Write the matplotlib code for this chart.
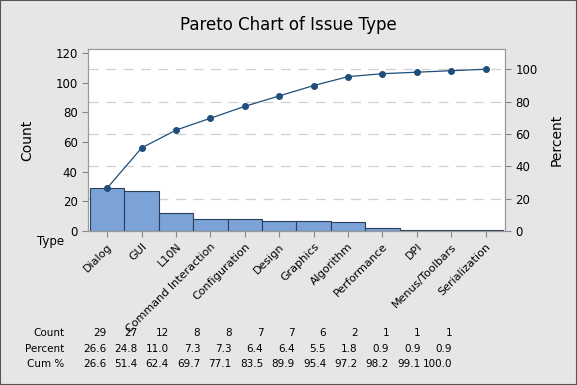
import matplotlib
matplotlib.use("Agg")
import matplotlib.pyplot as plt
import numpy as np

# Данные
types = ["Dialog", "GUI", "L10N", "Command Interaction", "Configuration", "Design",
         "Graphics", "Algorithm", "Performance", "DPI", "Menus/Toolbars", "Serialization"]
counts = [29, 27, 12, 8, 8, 7, 7, 6, 2, 1, 1, 1]
percents = ["26.6", "24.8", "11.0", "7.3", "7.3", "6.4", "6.4", "5.5", "1.8", "0.9", "0.9", "0.9"]
cum_pct = ["26.6", "51.4", "62.4", "69.7", "77.1", "83.5", "89.9", "95.4", "97.2", "98.2", "99.1", "100.0"]

total = sum(counts)
cum_counts = np.cumsum(counts)

bg = "#e6e6e6"
bar_color = "#7ba3d6"
edge_color = "#2c3e5c"
line_color = "#1f4e7a"

fig = plt.figure(figsize=(5.77, 3.85), dpi=100, facecolor=bg)
fig.patches.append(plt.Rectangle((0, 0), 1, 1, transform=fig.transFigure,
                                 fill=False, edgecolor="#555555", linewidth=1.5))

ax = fig.add_axes([0.1525, 0.40, 0.7225, 0.473])
ax.set_facecolor("white")
x = np.arange(len(types))
ax.bar(x, counts, width=1.0, color=bar_color, edgecolor=edge_color, linewidth=0.8, zorder=2)
ax.plot(x, cum_counts, color=line_color, marker="o", markersize=4, linewidth=0.9, zorder=3)

# пунктирная сетка по процентам
for v in range(20, 101, 20):
    ax.axhline(v * total / 100, color="#d0d0d0", linestyle=(0, (8, 6)), linewidth=0.9, zorder=0)

ax.set_xlim(-0.56, 11.56)
ax.set_ylim(0, 122.7)
ax.set_yticks(range(0, 121, 20))
ax.set_xticks(x)
ax.set_xticklabels(types, rotation=45, ha="right", va="top", rotation_mode="anchor", fontsize=8)
ax.tick_params(axis="y", labelsize=8.5, length=4, color="#888888")
ax.tick_params(axis="x", length=4, color="#888888")
for s in ax.spines.values():
    s.set_color("#999999")
ax.set_ylabel("Count", fontsize=10, labelpad=15)

ax2 = ax.twinx()
ax2.set_ylim(0, 122.7 / total * 100)
ax2.set_yticks(range(0, 101, 20))
ax2.tick_params(axis="y", labelsize=8.5, length=4, color="#888888")
for s in ax2.spines.values():
    s.set_color("#999999")
ax2.set_ylabel("Percent", fontsize=10, labelpad=9)

fig.text(0.5, 0.935, "Pareto Chart of Issue Type", ha="center", va="center", fontsize=12)
fig.text(0.112, 0.372, "Type", ha="right", va="center", fontsize=8.5)

# Таблица внизу
row_labels = ["Count", "Percent", "Cum %"]
rows = [[str(c) for c in counts], percents, cum_pct]
row_y = [0.135, 0.094, 0.054]
x_first, x_last = 106 / 577, 452 / 577
col_x = np.linspace(x_first, x_last, len(types))
for lbl, vals, yy in zip(row_labels, rows, row_y):
    fig.text(64 / 577, yy, lbl, ha="right", va="center", fontsize=7.5)
    for cx, v in zip(col_x, vals):
        fig.text(cx, yy, v, ha="right", va="center", fontsize=7.5)

fig.savefig("out.png", dpi=100, facecolor=bg)
